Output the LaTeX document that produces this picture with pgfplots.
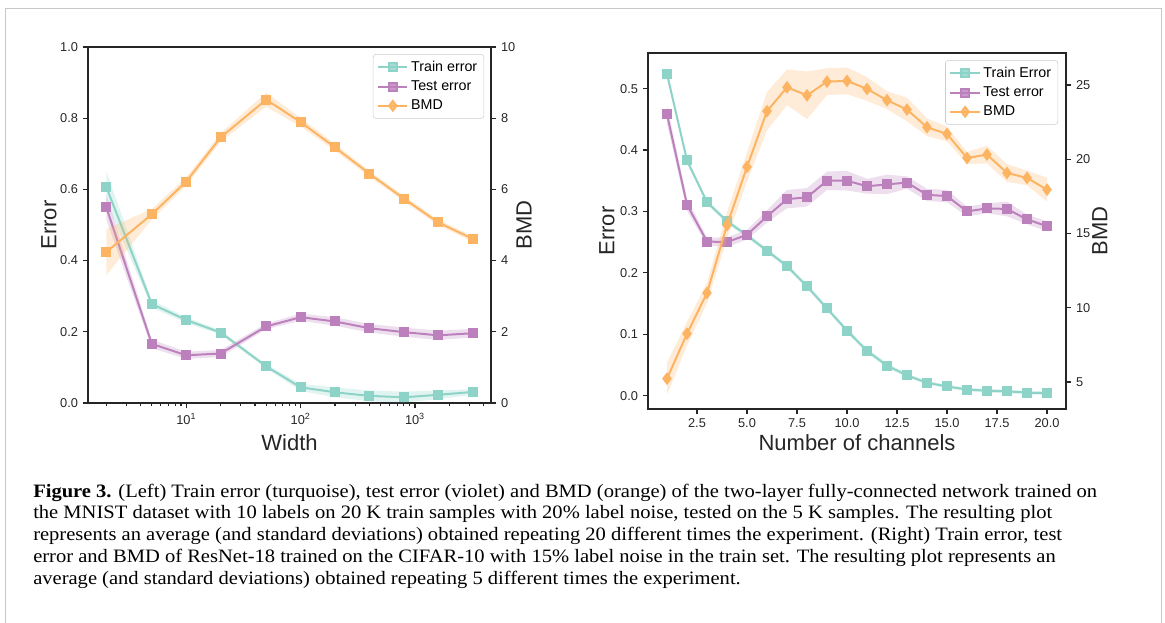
\documentclass[border=0pt]{standalone}
\usepackage{fontspec}
\setmainfont{Liberation Sans}
\newfontfamily\capfont[FakeStretch=1.085]{Liberation Serif}
\usepackage{pgfplots}
\usepackage{pgfplotstable}
\pgfplotsset{compat=1.18}

\definecolor{trainc}{HTML}{8DD3C7}
\definecolor{testc}{HTML}{BC80BD}
\definecolor{bmdc}{HTML}{FDB462}
\definecolor{spine}{HTML}{262626}
\definecolor{framec}{HTML}{C8C8C8}

% left panel: width sweep (means)
\pgfplotstableread{
x train test bmd
2 0.607 0.550 4.24
5 0.278 0.166 5.30
10 0.233 0.134 6.22
20 0.198 0.139 7.46
50 0.103 0.215 8.52
100 0.044 0.241 7.89
200 0.030 0.229 7.18
400 0.020 0.210 6.44
800 0.016 0.199 5.74
1600 0.023 0.190 5.07
3200 0.031 0.196 4.61
}\Lmean

% right panel: channel sweep (means)
\pgfplotstableread{
x train test bmd
1 0.524 0.458 5.22
2 0.383 0.311 8.25
3 0.315 0.251 10.99
4 0.284 0.250 15.55
5 0.261 0.262 19.48
6 0.236 0.292 23.23
7 0.211 0.320 24.84
8 0.178 0.323 24.30
9 0.142 0.350 25.22
10 0.106 0.350 25.27
11 0.073 0.341 24.73
12 0.049 0.344 23.97
13 0.033 0.347 23.34
14 0.021 0.327 22.15
15 0.015 0.325 21.70
16 0.010 0.300 20.08
17 0.008 0.305 20.31
18 0.007 0.304 19.07
19 0.005 0.287 18.74
20 0.004 0.276 17.95
}\Rmean

\pgfplotsset{
  base/.style={
    scale only axis,
    axis line style={spine, line width=1.2pt},
    tick style={spine, line width=0.9pt},
    major tick length=4pt, minor tick length=2.5pt,
    tick align=outside,
    tick label style={font=\fontsize{9.6}{11}\selectfont, text=spine},
    label style={font=\fontsize{16.5}{18}\selectfont, text=spine},
    /pgf/number format/assume math mode=true,
    legend style={font=\fontsize{10.7}{12}\selectfont, draw=black!20,
      rounded corners=2pt, fill=white, fill opacity=0.8, text opacity=1,
      anchor=north east, row sep=1.5pt, inner sep=3pt,
      cells={anchor=west}},
    legend image code/.code={
      \draw[mark repeat=2, mark phase=2, ##1] plot coordinates {(0pt,0pt) (11pt,0pt) (22pt,0pt)};},
  },
  trainsty/.style={trainc, line width=1.5pt, mark=square*, mark size=3pt},
  teststy/.style={testc, line width=1.5pt, mark=square*, mark size=3pt},
  bmdsq/.style={bmdc, line width=1.5pt, mark=square*, mark size=3pt},
  bmddi/.style={bmdc, line width=1.5pt, mark=diamond*, mark size=3.6pt},
  band/.style={fill=#1, fill opacity=0.25, draw=none, forget plot},
}

\begin{document}
\begin{tikzpicture}
\useasboundingbox (0,0) rectangle (873.75pt,467.25pt);
\draw[framec, line width=1.2pt] (4pt,0) -- (4pt,461pt) -- (871pt,461pt) -- (871pt,0);

% ---------- left panel ----------
\begin{axis}[base, at={(66pt,165pt)}, width=302.25pt, height=267pt,
  xmode=log, xmin=1.384, xmax=4624, ymin=0, ymax=1,
  xtick={10,100,1000},
  xticklabels={10\textsuperscript{1},10\textsuperscript{2},10\textsuperscript{3}},
  minor xtick={2,3,4,5,6,7,8,9,20,30,40,50,60,70,80,90,200,300,400,500,600,700,800,900,2000,3000,4000},
  ytick={0,0.2,0.4,0.6,0.8,1},
  yticklabel style={/pgf/number format/.cd, fixed, fixed zerofill, precision=1},
  xtick pos=left, ytick pos=left,
  xlabel={Width}, ylabel={Error},
  xlabel style={at={(axis description cs:0.5,-0.112)}, anchor=center},
  ylabel style={at={(axis description cs:-0.097,0.5)}, anchor=center},
]
% mean +/- std bands
\addplot[band=trainc] coordinates {(2,0.651) (5,0.288) (10,0.241) (20,0.204) (50,0.109) (100,0.054) (200,0.044) (400,0.035) (800,0.032) (1600,0.035) (3200,0.039)
  (3200,0.023) (1600,0.011) (800,0.001) (400,0.005) (200,0.016) (100,0.034) (50,0.097) (20,0.192) (10,0.225) (5,0.268) (2,0.563)};
\addplot[band=testc] coordinates {(2,0.585) (5,0.178) (10,0.144) (20,0.149) (50,0.223) (100,0.251) (200,0.241) (400,0.222) (800,0.212) (1600,0.203) (3200,0.208)
  (3200,0.184) (1600,0.177) (800,0.186) (400,0.198) (200,0.217) (100,0.231) (50,0.207) (20,0.129) (10,0.124) (5,0.154) (2,0.515)};
\addplot[trainsty] table[x=x, y=train] {\Lmean};
\addplot[teststy] table[x=x, y=test] {\Lmean};
\end{axis}
\begin{axis}[base, at={(66pt,165pt)}, width=302.25pt, height=267pt,
  xmode=log, xmin=1.384, xmax=4624, ymin=0, ymax=10,
  axis x line=none, axis y line*=right,
  ytick={0,2,4,6,8,10},
  ylabel={BMD},
  ylabel style={at={(axis description cs:1.082,0.5)}, anchor=center},
  legend style={at={(0.983,0.98)}},
]
\addlegendimage{trainsty}\addlegendentry{Train error}
\addlegendimage{teststy}\addlegendentry{Test error}
\addlegendimage{bmddi}\addlegendentry{BMD}
\addplot[band=bmdc] coordinates {(2,4.89) (5,5.45) (10,6.34) (20,7.58) (50,8.72) (100,8.01) (200,7.28) (400,6.52) (800,5.82) (1600,5.15) (3200,4.69)
  (3200,4.53) (1600,4.99) (800,5.66) (400,6.36) (200,7.08) (100,7.77) (50,8.32) (20,7.34) (10,6.10) (5,5.15) (2,3.59)};
\addplot[bmdsq, forget plot] table[x=x, y=bmd] {\Lmean};
\end{axis}

% ---------- right panel ----------
\begin{axis}[base, at={(486pt,160.5pt)}, width=313.5pt, height=267pt,
  xmin=0.05, xmax=20.95, ymin=-0.0217, ymax=0.558,
  xtick={2.5,5,7.5,10,12.5,15,17.5,20},
  ytick={0,0.1,0.2,0.3,0.4,0.5},
  xticklabel style={/pgf/number format/.cd, fixed, fixed zerofill, precision=1},
  yticklabel style={/pgf/number format/.cd, fixed, fixed zerofill, precision=1},
  xtick pos=left, ytick pos=left,
  xlabel={Number of channels}, ylabel={Error},
  xlabel style={at={(axis description cs:0.5,-0.0955)}, anchor=center},
  ylabel style={at={(axis description cs:-0.098,0.5)}, anchor=center},
]
\addplot[band=trainc] coordinates {(1,0.530) (2,0.388) (3,0.319) (4,0.288) (5,0.265) (6,0.240) (7,0.215) (8,0.182) (9,0.146) (10,0.110) (11,0.077) (12,0.053) (13,0.036) (14,0.024) (15,0.018) (16,0.013) (17,0.011) (18,0.010) (19,0.008) (20,0.007)
  (20,0.001) (19,0.002) (18,0.004) (17,0.005) (16,0.007) (15,0.012) (14,0.018) (13,0.030) (12,0.045) (11,0.069) (10,0.102) (9,0.138) (8,0.174) (7,0.207) (6,0.232) (5,0.257) (4,0.280) (3,0.311) (2,0.378) (1,0.518)};
\addplot[band=testc] coordinates {(1,0.473) (2,0.321) (3,0.257) (4,0.258) (5,0.270) (6,0.302) (7,0.335) (8,0.338) (9,0.365) (10,0.366) (11,0.353) (12,0.360) (13,0.357) (14,0.337) (15,0.335) (16,0.308) (17,0.313) (18,0.316) (19,0.295) (20,0.284)
  (20,0.268) (19,0.279) (18,0.292) (17,0.297) (16,0.292) (15,0.315) (14,0.317) (13,0.337) (12,0.328) (11,0.329) (10,0.334) (9,0.335) (8,0.308) (7,0.305) (6,0.282) (5,0.254) (4,0.242) (3,0.245) (2,0.301) (1,0.443)};
\addplot[trainsty] table[x=x, y=train] {\Rmean};
\addplot[teststy] table[x=x, y=test] {\Rmean};
\end{axis}
\begin{axis}[base, at={(486pt,160.5pt)}, width=313.5pt, height=267pt,
  xmin=0.05, xmax=20.95, ymin=3.18, ymax=27.15,
  axis x line=none, axis y line*=right,
  ytick={5,10,15,20,25},
  ylabel={BMD},
  ylabel style={at={(axis description cs:1.081,0.5)}, anchor=center},
  legend style={at={(0.981,0.98)}},
]
\addlegendimage{trainsty}\addlegendentry{Train Error}
\addlegendimage{teststy}\addlegendentry{Test error}
\addplot[band=bmdc] coordinates {(1,6.32) (2,9.05) (3,11.69) (4,16.45) (5,20.48) (6,24.53) (7,26.04) (8,25.90) (9,26.12) (10,26.17) (11,25.53) (12,24.57) (13,24.14) (14,22.75) (15,22.20) (16,20.48) (17,20.91) (18,19.67) (19,19.24) (20,18.75)
  (20,17.15) (19,18.24) (18,18.47) (17,19.71) (16,19.68) (15,21.20) (14,21.55) (13,22.54) (12,23.37) (11,23.93) (10,24.37) (9,24.32) (8,22.70) (7,23.64) (6,21.93) (5,18.48) (4,14.65) (3,10.29) (2,7.45) (1,4.12)};
\addplot[bmddi] table[x=x, y=bmd] {\Rmean};
\addlegendentry{BMD}
\end{axis}

% ---------- caption ----------
\node[anchor=north west, inner sep=0pt, align=left,
      font=\capfont\fontsize{14.2}{16.3}\selectfont] at (24.75pt,104.5pt)
{\textbf{Figure 3.} (Left) Train error (turquoise), test error (violet) and BMD (orange) of the two-layer fully-connected network trained on\\
the MNIST dataset with 10 labels on 20 K train samples with 20\% label noise, tested on the 5 K samples. The resulting plot\\
represents an average (and standard deviations) obtained repeating 20 different times the experiment. (Right) Train error, test\\
error and BMD of ResNet-18 trained on the CIFAR-10 with 15\% label noise in the train set. The resulting plot represents an\\
average (and standard deviations) obtained repeating 5 different times the experiment.};
\end{tikzpicture}
\end{document}
